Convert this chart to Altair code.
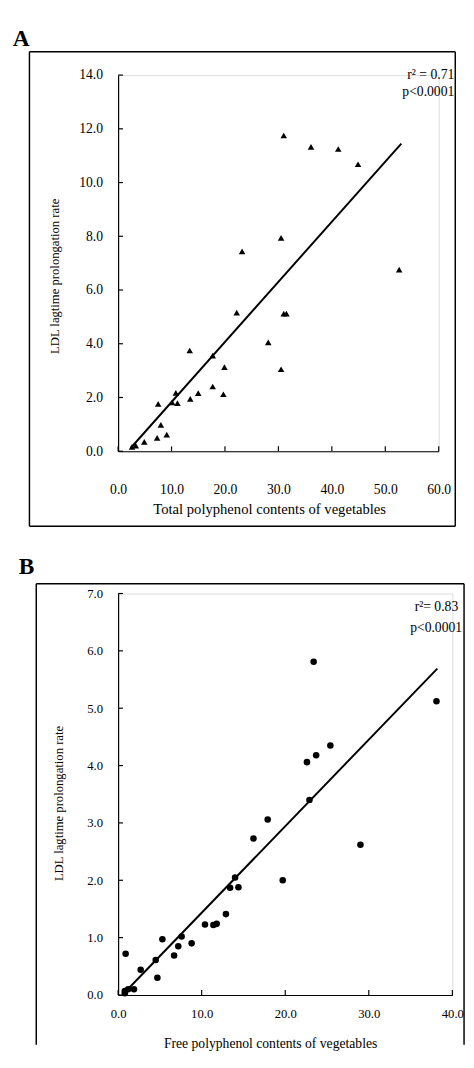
import altair as alt
import pandas as pd

FONT = "Liberation Serif"

# ---------------- Panel A data ----------------
a_x = [31.0, 36.1, 41.2, 44.9, 52.6, 30.5, 23.2, 22.2, 31.0, 31.5, 28.1, 13.4, 17.7, 19.9, 30.5,
       17.7, 15.0, 19.7, 13.5, 10.8, 10.1, 11.1, 7.5, 8.0, 9.1, 7.3, 4.9, 3.3, 2.6]
a_y = [11.75, 11.33, 11.25, 10.68, 6.76, 7.94, 7.44, 5.16, 5.12, 5.12, 4.05, 3.75, 3.56, 3.13, 3.05,
       2.41, 2.16, 2.12, 1.95, 2.17, 1.82, 1.79, 1.76, 0.98, 0.62, 0.50, 0.35, 0.21, 0.16]
a_fit_x = [2.4, 53.0]
a_fit_y = [0.13, 11.45]
a_xticks = [0, 10, 20, 30, 40, 50, 60]
a_yticks = [0, 2, 4, 6, 8, 10, 12, 14]
a_stats = ["r\u00b2 = 0.71", "p<0.0001"]

# ---------------- Panel B data ----------------
b_x = [23.4, 38.1, 25.4, 23.7, 22.6, 22.9, 17.9, 16.2, 29.0, 19.7, 14.0, 13.4, 14.4, 12.9, 10.4,
       11.4, 11.8, 8.8, 7.6, 7.2, 6.7, 5.3, 4.5, 4.7, 2.7, 0.9, 1.9, 1.2, 0.8, 0.8]
b_y = [5.81, 5.12, 4.35, 4.18, 4.06, 3.40, 3.06, 2.73, 2.62, 2.00, 2.05, 1.87, 1.88, 1.41, 1.23,
       1.22, 1.24, 0.90, 1.02, 0.85, 0.69, 0.97, 0.61, 0.30, 0.44, 0.72, 0.10, 0.10, 0.07, 0.03]
b_fit_x = [0.9, 38.2]
b_fit_y = [0.06, 5.69]
b_xticks = [0, 10, 20, 30, 40]
b_yticks = [0, 1, 2, 3, 4, 5, 6, 7]
b_stats = ["r\u00b2= 0.83", "p<0.0001"]

Y_TITLE = "LDL lagtime prolongation rate"


def dummy():
    return pd.DataFrame({"k": [0]})


def panel(px, py, fx, fy, xticks, yticks, xdom, ydom, w, h, shape, size,
          xtitle, letter, stats, lay):
    pts = pd.DataFrame({"x": px, "y": py})
    fit = pd.DataFrame({"x": fx, "y": fy})
    xt = pd.DataFrame({"x": xticks})
    yt = pd.DataFrame({"y": yticks})

    xaxis = alt.Axis(values=xticks, format=".1f", ticks=False, grid=False,
                     domainColor="black", domainWidth=1.2,
                     labelFont=FONT, labelFontSize=lay["xlab_fs"], labelColor="black",
                     labelPadding=lay["xlab_pad"], labelBaseline="middle",
                     labelFlush=False, labelOverlap=False,
                     title=xtitle, titleFont=FONT, titleFontSize=lay["xtitle_fs"],
                     titleFontWeight="normal", titleColor="black",
                     titleX=lay["xtitle_x"], titleY=lay["xtitle_y"],
                     titleBaseline="middle", titleAlign="center")
    yaxis = alt.Axis(values=yticks, format=".1f", ticks=False, grid=False,
                     domainColor="black", domainWidth=1.2,
                     labelFont=FONT, labelFontSize=lay["ylab_fs"], labelColor="black",
                     labelPadding=16, labelBaseline="middle",
                     labelFlush=False, labelOverlap=False,
                     title=Y_TITLE, titleFont=FONT, titleFontSize=13,
                     titleFontWeight="normal", titleColor="black",
                     titleAngle=270, titleX=lay["ytitle_x"], titleY=lay["ytitle_y"],
                     titleBaseline="middle", titleAlign="center")

    xs = alt.Scale(domain=xdom, nice=False, zero=False)
    ys = alt.Scale(domain=ydom, nice=False, zero=False)

    anchor = alt.Chart(dummy()).mark_rule(color="white", strokeWidth=1).encode(
        x=alt.value(lay["anchor_x"]), y=alt.value(lay["anchor_y1"]), y2=alt.value(lay["anchor_y2"]))

    points = alt.Chart(pts).mark_point(shape=shape, filled=True, size=size,
                                       color="black", opacity=1).encode(
        x=alt.X("x:Q", scale=xs, axis=xaxis),
        y=alt.Y("y:Q", scale=ys, axis=yaxis))

    line = alt.Chart(fit).mark_line(color="black", strokeWidth=2).encode(
        x=alt.X("x:Q"), y=alt.Y("y:Q"))

    xtick = alt.Chart(xt).mark_rule(color="black", strokeWidth=1.2).encode(
        x=alt.X("x:Q"), y=alt.value(h), y2=alt.value(h - 5))
    ytick = alt.Chart(yt).mark_rule(color="black", strokeWidth=1.2).encode(
        y=alt.Y("y:Q"), x=alt.value(0), x2=alt.value(5))

    s1 = alt.Chart(dummy()).mark_text(align="right", baseline="middle", font=FONT,
                                      fontSize=14, color="black").encode(
        x=alt.value(lay["s1"][0]), y=alt.value(lay["s1"][1]), text=alt.value(stats[0]))
    s2 = alt.Chart(dummy()).mark_text(align="right", baseline="middle", font=FONT,
                                      fontSize=14, color="black").encode(
        x=alt.value(lay["s2"][0]), y=alt.value(lay["s2"][1]), text=alt.value(stats[1]))

    let = alt.Chart(dummy()).mark_text(align="left", baseline="alphabetic", font=FONT,
                                       fontSize=24, fontWeight="bold", color="black").encode(
        x=alt.value(lay["letter"][0]), y=alt.value(lay["letter"][1]), text=alt.value(letter))

    fl, ft, fr, fb = lay["frame"]
    frame = [
        alt.Chart(dummy()).mark_rule(color="black", strokeWidth=1.5).encode(
            x=alt.value(fl), x2=alt.value(fr), y=alt.value(ft)),
        alt.Chart(dummy()).mark_rule(color="black", strokeWidth=1.5).encode(
            x=alt.value(fl), y=alt.value(ft), y2=alt.value(fb)),
        alt.Chart(dummy()).mark_rule(color="black", strokeWidth=1.5).encode(
            x=alt.value(fr), y=alt.value(ft), y2=alt.value(fb)),
    ]
    if lay["frame_bottom"]:
        frame.append(alt.Chart(dummy()).mark_rule(color="black", strokeWidth=1.5).encode(
            x=alt.value(fl), x2=alt.value(fr), y=alt.value(fb)))

    return alt.layer(points, anchor, *frame, line, xtick, ytick, s1, s2, let).properties(
        width=w, height=h)


# Panel A: plot area x 120..449, y 62..448
lay_a = dict(xlab_fs=14, xlab_pad=39, xtitle_fs=15, xtitle_x=155, xtitle_y=59,
             ylab_fs=14, ytitle_x=-65, ytitle_y=206,
             anchor_x=-112, anchor_y1=-54, anchor_y2=465,
             s1=(345, 0), s2=(345, 17), letter=(-108, -30),
             frame=(-91, -24, 346, 463), frame_bottom=True)
# Panel B: plot area x 111..454, y 593..1005
lay_b = dict(xlab_fs=13, xlab_pad=19, xtitle_fs=14, xtitle_x=156, xtitle_y=50,
             ylab_fs=13, ytitle_x=-61, ytitle_y=215,
             anchor_x=-103, anchor_y1=-45, anchor_y2=0,
             s1=(349, 14), s2=(353, 35), letter=(-102, -20),
             frame=(-84, -10, 355, 463), frame_bottom=False)

chart_a = panel(a_x, a_y, a_fit_x, a_fit_y, a_xticks, a_yticks, [0, 60], [0, 14], 329, 386,
                "triangle-up", 45, "Total polyphenol contents of vegetables", "A", a_stats, lay_a)
chart_b = panel(b_x, b_y, b_fit_x, b_fit_y, b_xticks, b_yticks, [0, 40], [0, 7], 343, 412,
                "circle", 45, "Free polyphenol contents of vegetables", "B", b_stats, lay_b)

chart = alt.vconcat(chart_a, chart_b, spacing=20).properties(
    padding={"left": 0, "top": 0, "right": 0, "bottom": 0}
).configure_view(stroke=None).configure(background="white")

chart.save("out.html", embed_options={"renderer": "svg", "actions": False})
